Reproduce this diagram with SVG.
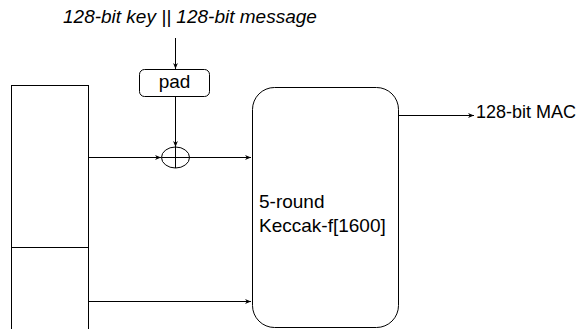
<svg xmlns="http://www.w3.org/2000/svg" width="578" height="329" viewBox="0 0 578 329">
  <defs>
    <marker id="arrow" viewBox="0 0 10 10" refX="10" refY="5" markerWidth="6" markerHeight="6" markerUnits="userSpaceOnUse" orient="auto">
      <path d="M0,1 L10,5 L0,9 L3,5 Z" fill="#000"/>
    </marker>
  </defs>
  <style>
    .box { fill: #fff; stroke: #000; stroke-width: 1; }
    .wire { fill: none; stroke: #000; stroke-width: 1; }
    .lbl { font-family: "Liberation Sans", Arial, sans-serif; font-size: 19px; fill: #000; }
    .ital { font-style: italic; }
  </style>
  <rect width="578" height="329" fill="#fff"/>

  <g id="connectors">
    <line class="wire" x1="175.5" y1="38" x2="175.5" y2="69" marker-end="url(#arrow)"/>
    <line class="wire" x1="175.5" y1="97" x2="175.5" y2="147" marker-end="url(#arrow)"/>
    <line class="wire" x1="88" y1="157.5" x2="161" y2="157.5" marker-end="url(#arrow)"/>
    <line class="wire" x1="189" y1="157.5" x2="251" y2="157.5" marker-end="url(#arrow)"/>
    <line class="wire" x1="88" y1="301.5" x2="251" y2="301.5" marker-end="url(#arrow)"/>
    <line class="wire" x1="398" y1="115.5" x2="474" y2="115.5" marker-end="url(#arrow)"/>
  </g>

  <g id="input">
    <text class="lbl ital" x="63" y="23">128-bit key || 128-bit message</text>
  </g>

  <g id="state">
    <rect class="box" x="11.5" y="85.5" width="77" height="260"/>
    <line class="wire" x1="11.5" y1="247.5" x2="88.5" y2="247.5"/>
  </g>

  <g id="pad">
    <rect class="box" x="139.5" y="69.5" width="70" height="27" rx="5"/>
    <text class="lbl" x="174.5" y="88" text-anchor="middle">pad</text>
  </g>

  <g id="xor">
    <ellipse class="wire" cx="175.5" cy="157.5" rx="14" ry="10.5"/>
    <line class="wire" x1="175.5" y1="147" x2="175.5" y2="168"/>
    <line class="wire" x1="161.5" y1="157.5" x2="189.5" y2="157.5"/>
  </g>

  <g id="keccak">
    <rect class="box" x="252.5" y="87.5" width="146" height="240" rx="22"/>
    <text class="lbl" x="259" y="208">5-round</text>
    <text class="lbl" x="259" y="232">Keccak-f[1600]</text>
  </g>

  <g id="output">
    <text class="lbl" x="476" y="118" style="font-size:18px">128-bit MAC</text>
  </g>
</svg>
